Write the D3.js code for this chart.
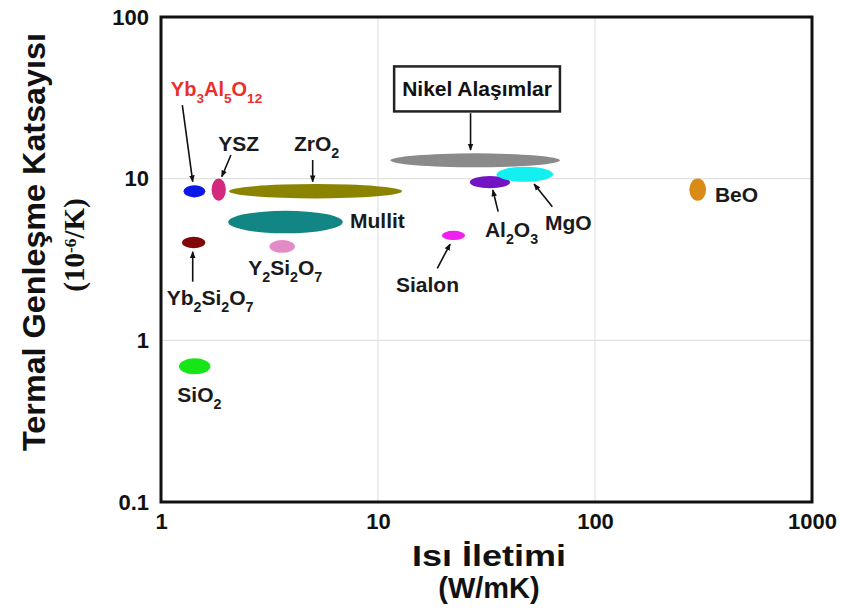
<!DOCTYPE html>
<html>
<head>
<meta charset="utf-8"/>
<title>Termal Genleşme - Isı İletimi</title>
<script src="https://d3js.org/d3.v7.min.js"></script>
<style>
  body { margin: 0; background: white; }
  svg text { font-family: "Liberation Sans", Arial, sans-serif; font-weight: bold; }
  .tick text { font-size: 22px; fill: #111; }
</style>
</head>
<body>
<svg id="chart" width="841" height="614"></svg>
<script>
// materials: thermal conductivity range (W/mK) and CTE range (10^-6/K)
var names  = ["Nikel", "Yb3Al5O12", "YSZ", "ZrO2", "Mullit", "Yb2Si2O7", "Y2Si2O7", "SiO2", "Al2O3", "MgO", "Sialon", "BeO"];
var kMin   = [11.4, 1.27, 1.71, 2.06, 2.04, 1.25, 3.16, 1.21, 26.5, 35.2, 19.7, 272];
var kMax   = [69.0, 1.60, 1.99, 12.9, 6.88, 1.60, 4.14, 1.69, 40.6, 64.2, 25.2, 325];
var aMin   = [11.75, 7.66, 7.30, 7.55, 4.59, 3.71, 3.48, 0.616, 8.71, 9.57, 4.17, 7.30];
var aMax   = [14.34, 9.12, 10.04, 9.26, 6.33, 4.37, 4.17, 0.774, 10.38, 11.85, 4.76, 10.04];
var colors = ["#8a8a8a", "#0a18e8", "#d4287e", "#8a8400", "#128585", "#820808", "#e38bc6", "#16e616", "#7214c4", "#14f0f0", "#f020f0", "#d98b16"];

var xTicks = [1, 10, 100, 1000];
var yTicks = [0.1, 1, 10, 100];
var xTickLabels = ["1", "10", "100", "1000"];
var yTickLabels = ["0.1", "1", "10", "100"];

// labels: text ("_n" = subscript), anchor point in data units
var labText = ["Yb_3Al_5O_12", "YSZ", "ZrO_2", "Mullit", "Y_2Si_2O_7", "Yb_2Si_2O_7", "SiO_2", "Sialon", "Al_2O_3", "MgO", "BeO"];
var labK    = [1.11, 1.837, 4.10, 7.43, 2.525, 1.062, 1.189, 12.1, 31.1, 58.8, 357];
var labA    = [32.5, 14.9, 14.9, 4.95, 2.54, 1.654, 0.417, 2.00, 4.38, 4.81, 7.20];
var labRed  = [true, false, false, false, false, false, false, false, false, false, false];

// arrows: from (k1,a1) to (k2,a2)
var arK1 = [1.254, 2.10, 5.00, 1.40, 26.7, 35.8, 63.6, 18.76];
var arA1 = [28.5, 14.0, 13.04, 2.305, 25.4, 6.25, 6.71, 2.79];
var arK2 = [1.40, 1.905, 5.00, 1.40, 26.7, 33.8, 52.4, 21.5];
var arA2 = [9.58, 10.28, 9.58, 3.53, 15.04, 8.51, 9.27, 3.94];

var boxText = "Nikel Alaşımlar";
var boxK = 28.6, boxA = 35.9;

var margin = {top: 17, right: 29, bottom: 112, left: 161};
var svg = d3.select("#chart");
var W = 841, H = 614;
var w = W - margin.left - margin.right;
var h = H - margin.top - margin.bottom;

var x = d3.scaleLog([1, 1000], [margin.left, margin.left + w]);
var y = d3.scaleLog([0.1, 100], [margin.top + h, margin.top]);

// grid
svg.append("g").selectAll("line").data([10, 100]).join("line")
  .attr("x1", d => x(d)).attr("x2", d => x(d))
  .attr("y1", margin.top).attr("y2", margin.top + h)
  .attr("stroke", "#e2e2e2").attr("stroke-width", 1.2);
svg.append("g").selectAll("line").data([1, 10]).join("line")
  .attr("y1", d => y(d)).attr("y2", d => y(d))
  .attr("x1", margin.left).attr("x2", margin.left + w)
  .attr("stroke", "#e2e2e2").attr("stroke-width", 1.2);

// axes
var xAxis = svg.append("g")
  .attr("transform", "translate(0," + (margin.top + h) + ")")
  .call(d3.axisBottom(x).tickValues(xTicks).tickFormat((d, i) => xTickLabels[i]).tickSize(0).tickPadding(11));
var yAxis = svg.append("g")
  .attr("transform", "translate(" + margin.left + ",0)")
  .call(d3.axisLeft(y).tickValues(yTicks).tickFormat((d, i) => yTickLabels[i]).tickSize(0).tickPadding(12));
xAxis.select(".domain").remove();
yAxis.select(".domain").remove();
xAxis.selectAll("text").attr("font-family", null);
yAxis.selectAll("text").attr("font-family", null);

// ellipses
var mats = names.map((n, i) => ({n: n, k1: kMin[i], k2: kMax[i], a1: aMin[i], a2: aMax[i], c: colors[i]}));
svg.append("g").selectAll("ellipse").data(mats).join("ellipse")
  .attr("cx", d => (x(d.k1) + x(d.k2)) / 2)
  .attr("cy", d => (y(d.a1) + y(d.a2)) / 2)
  .attr("rx", d => (x(d.k2) - x(d.k1)) / 2)
  .attr("ry", d => (y(d.a1) - y(d.a2)) / 2)
  .attr("fill", d => d.c);

// frame
svg.append("rect")
  .attr("x", margin.left).attr("y", margin.top)
  .attr("width", w).attr("height", h)
  .attr("fill", "none").attr("stroke", "#111").attr("stroke-width", 3);

// arrows
svg.append("defs").append("marker")
  .attr("id", "ah").attr("viewBox", "0 0 10 10")
  .attr("refX", 9).attr("refY", 5)
  .attr("markerWidth", 7).attr("markerHeight", 7)
  .attr("markerUnits", "userSpaceOnUse")
  .attr("orient", "auto")
  .append("path").attr("d", "M0,1 L10,5 L0,9 Z").attr("fill", "#111");

svg.append("g").selectAll("line").data(arK1).join("line")
  .attr("x1", (d, i) => x(arK1[i])).attr("y1", (d, i) => y(arA1[i]))
  .attr("x2", (d, i) => x(arK2[i])).attr("y2", (d, i) => y(arA2[i]))
  .attr("stroke", "#111").attr("stroke-width", 1.6)
  .attr("marker-end", "url(#ah)");

// labels with subscripts
var lab = svg.append("g").selectAll("text").data(labText).join("text")
  .attr("x", (d, i) => x(labK[i]))
  .attr("y", (d, i) => y(labA[i]))
  .style("fill", (d, i) => labRed[i] ? "#e8302c" : "#1a1a1a")
  .style("font-size", (d, i) => labRed[i] ? "20px" : "21px");

lab.each(function(d, i) {
  var t = d3.select(this);
  var fs = labRed[i] ? 20 : 21;
  var parts = d.split(/_(\d+)/);
  var shift = 0;
  parts.forEach(function(p, j) {
    if (p === "") return;
    var sub = j % 2 === 1;
    var want = sub ? fs * 0.34 : 0;
    var s = t.append("tspan").text(p).attr("dy", want - shift);
    if (sub) s.style("font-size", (fs * 0.68) + "px");
    shift = want;
  });
});

// boxed label
var boxG = svg.append("g");
var bt = boxG.append("text")
  .attr("x", x(boxK)).attr("y", y(boxA))
  .attr("text-anchor", "middle").attr("dominant-baseline", "central")
  .style("font-size", "21px").style("fill", "#111")
  .text(boxText);
var bb = bt.node().getBBox();
boxG.insert("rect", "text")
  .attr("x", bb.x - 8).attr("y", bb.y - 11)
  .attr("width", bb.width + 16).attr("height", bb.height + 22)
  .attr("fill", "white").attr("stroke", "#222").attr("stroke-width", 2.5);

// axis titles
svg.append("text")
  .attr("transform", "translate(45,242) rotate(-90)")
  .attr("text-anchor", "middle")
  .attr("textLength", 418).attr("lengthAdjust", "spacingAndGlyphs")
  .style("font-size", "31px").style("fill", "#111")
  .text("Termal Genleşme Katsayısı");

var yt2 = svg.append("text")
  .attr("transform", "translate(84,245) rotate(-90)")
  .attr("text-anchor", "middle")
  .style("font-family", "'Liberation Serif', 'Times New Roman', serif")
  .style("font-size", "29px").style("fill", "#111");
yt2.append("tspan").text("(10");
yt2.append("tspan").text("-6").attr("dy", "-0.45em").style("font-size", "0.6em");
yt2.append("tspan").text("/K)").attr("dy", "0.27em");

svg.append("text")
  .attr("x", 489).attr("y", 566)
  .attr("text-anchor", "middle")
  .attr("textLength", 154).attr("lengthAdjust", "spacingAndGlyphs")
  .style("font-size", "29px").style("fill", "#111")
  .text("Isı İletimi");
svg.append("text")
  .attr("x", 489).attr("y", 598)
  .attr("text-anchor", "middle")
  .style("font-size", "29px").style("fill", "#111")
  .text("(W/mK)");
</script>
</body>
</html>
